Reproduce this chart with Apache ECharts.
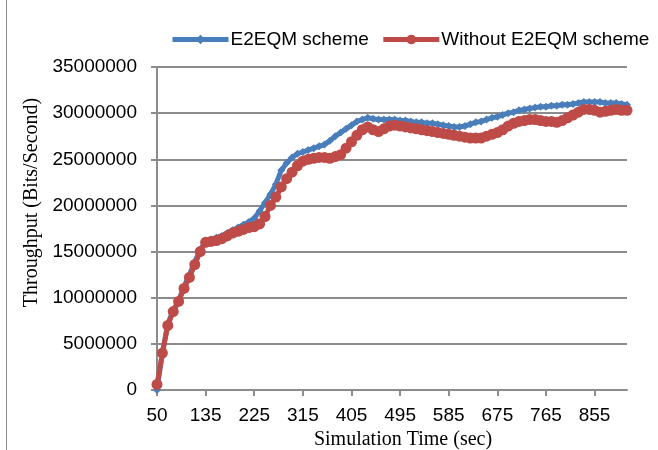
<!DOCTYPE html>
<html>
<head>
<meta charset="utf-8">
<script src="https://cdn.jsdelivr.net/npm/echarts@6/dist/echarts.min.js"></script>
<style>
  html, body { margin: 0; padding: 0; background: #fff; }
  #chart { width: 658px; height: 450px; }
</style>
</head>
<body>
<div id="chart"></div>
<script>
// simulation time (sec), one entry per sample
const times = [
  50, 55, 65, 75, 85, 95, 105, 115, 125, 135,
  145, 155, 165, 175, 185, 195, 205, 215, 225,
  235, 245, 255, 265, 275, 285, 295, 305, 315,
  325, 335, 345, 355, 365, 375, 385, 395, 405,
  415, 425, 435, 445, 455, 465, 475, 485, 495,
  505, 515, 525, 535, 545, 555, 565, 575, 585,
  595, 605, 615, 625, 635, 645, 655, 665, 675,
  685, 695, 705, 715, 725, 735, 745, 755, 765,
  775, 785, 795, 805, 815, 825, 835, 845, 855,
  865, 875, 885, 895, 905, 915
]

// throughput in millions of bits/second
const e2eqm = [
  0, 4.0, 7.2, 8.6, 9.7, 11.2, 12.5, 13.9, 15.2, 16.1,
  16.3, 16.5, 16.7, 17.0, 17.3, 17.6, 17.9, 18.2, 18.6,
  19.4, 20.3, 21.2, 22.3, 23.8, 24.6, 25.2, 25.6, 25.8,
  26.0, 26.2, 26.4, 26.6, 27.0, 27.5, 27.9, 28.3, 28.7,
  29.1, 29.3, 29.5, 29.4, 29.3, 29.3, 29.3, 29.3, 29.2,
  29.2, 29.1, 29.0, 29.0, 28.9, 28.9, 28.8, 28.7, 28.6,
  28.5, 28.5, 28.6, 28.8, 29.0, 29.1, 29.3, 29.5, 29.6,
  29.8, 30.0, 30.1, 30.3, 30.4, 30.5, 30.6, 30.7, 30.7,
  30.8, 30.8, 30.9, 30.9, 31.0, 31.1, 31.2, 31.2, 31.2,
  31.2, 31.1, 31.1, 31.1, 31.0, 30.9
]

const withoutE2eqm = [
  0.6, 4.0, 7.0, 8.5, 9.6, 11.0, 12.2, 13.6, 15.0, 16.0,
  16.1, 16.2, 16.4, 16.7, 17.0, 17.2, 17.4, 17.6, 17.7,
  18.0, 18.8, 20.0, 20.9, 22.0, 22.9, 23.6, 24.3, 24.8,
  25.0, 25.1, 25.2, 25.2, 25.1, 25.3, 25.5, 26.2, 26.9,
  27.6, 28.2, 28.5, 28.2, 28.0, 28.3, 28.6, 28.7, 28.6,
  28.5, 28.4, 28.3, 28.2, 28.1, 28.0, 27.9, 27.8, 27.7,
  27.6, 27.5, 27.4, 27.3, 27.3, 27.3, 27.5, 27.7, 27.9,
  28.2, 28.6, 28.9, 29.1, 29.2, 29.3, 29.3, 29.2, 29.1,
  29.1, 29.0, 29.2, 29.5, 29.8, 30.1, 30.4, 30.4, 30.3,
  30.1, 30.2, 30.3, 30.4, 30.3, 30.3
]

const toBits = (arr) => arr.map(v => Math.round(v * 1000000))

const gridColor = '#8c8c8c'
const sans = '"Liberation Sans", Arial, sans-serif'
const serif = '"Liberation Serif", "Times New Roman", serif'

const chart = echarts.init(document.getElementById('chart'))

chart.setOption({
  animation: false,
  backgroundColor: '#fff',
  graphic: [
    { type: 'line', shape: { x1: 6.5, y1: 0, x2: 6.5, y2: 450 }, style: { stroke: '#8c8c8c', lineWidth: 1 } }
  ],
  legend: {
    top: 30,
    left: 170,
    width: 488,
    padding: 0,
    itemWidth: 56,
    itemHeight: 12,
    itemGap: 12,
    lineStyle: { width: 5 },
    textStyle: { fontFamily: sans, fontSize: 19, color: '#000', padding: [0, 0, 0, -3] },
    data: ['E2EQM scheme', 'Without E2EQM scheme']
  },
  grid: { left: 157, right: 31, top: 67, bottom: 60, outerBoundsMode: 'none' },
  xAxis: {
    type: 'category',
    data: times.map(String),
    boundaryGap: false,
    name: 'Simulation Time (sec)',
    nameLocation: 'middle',
    nameGap: 40,
    nameTextStyle: { fontFamily: serif, fontSize: 20, color: '#000', padding: [0, 0, 0, 22] },
    axisLine: { lineStyle: { color: gridColor, width: 2 } },
    axisTick: { interval: 8, length: 6, lineStyle: { color: gridColor, width: 2 } },
    axisLabel: { interval: 8, margin: 16, fontFamily: sans, fontSize: 19, color: '#000' },
    splitLine: { show: false }
  },
  yAxis: {
    type: 'value',
    min: 0,
    max: 35000000,
    interval: 5000000,
    name: 'Throughput (Bits/Second)',
    nameLocation: 'middle',
    nameGap: 106,
    nameTextStyle: { fontFamily: serif, fontSize: 20, color: '#000', padding: [0, 0, 0, 52] },
    axisLine: { show: true, lineStyle: { color: gridColor, width: 2 } },
    axisTick: { show: true, length: 6, lineStyle: { color: gridColor, width: 2 } },
    axisLabel: { margin: 20, fontFamily: sans, fontSize: 19, color: '#000', formatter: (v) => String(v) },
    splitLine: { lineStyle: { color: gridColor, width: 2 } }
  },
  series: [
    {
      name: 'E2EQM scheme',
      type: 'line',
      data: toBits(e2eqm),
      showAllSymbol: true,
      symbol: 'diamond',
      symbolSize: 8,
      color: '#4a7ebb',
      lineStyle: { width: 5, color: '#4a7ebb' },
      itemStyle: { color: '#4a7ebb' },
      z: 2
    },
    {
      name: 'Without E2EQM scheme',
      type: 'line',
      data: toBits(withoutE2eqm),
      showAllSymbol: true,
      symbol: 'circle',
      symbolSize: 11,
      color: '#be4b48',
      lineStyle: { width: 5, color: '#be4b48' },
      itemStyle: { color: '#be4b48' },
      z: 3
    }
  ]
})
</script>
</body>
</html>
